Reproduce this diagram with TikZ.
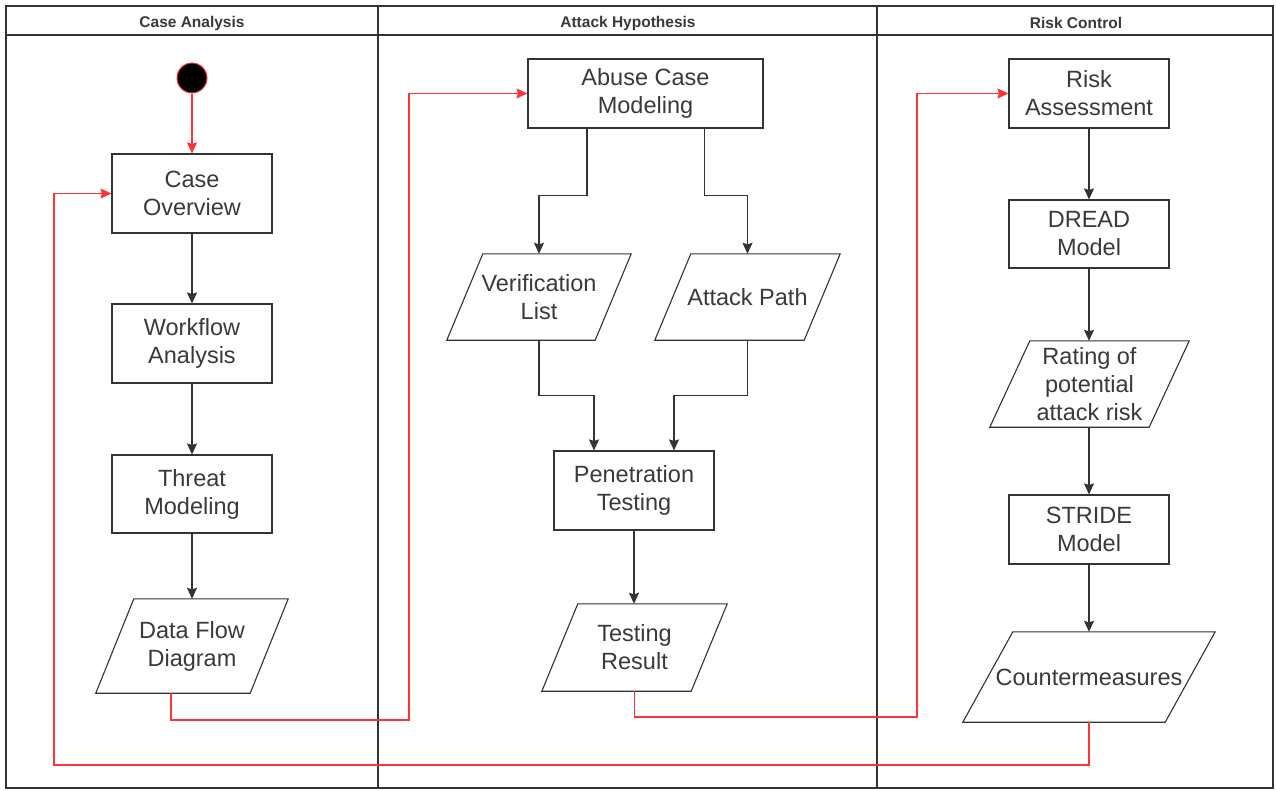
\documentclass[tikz,border=0pt]{standalone}
\usepackage{fontspec}
\setmainfont{Liberation Sans}
\usetikzlibrary{arrows.meta,calc}
\definecolor{ln}{HTML}{333333}
\definecolor{txt}{HTML}{3A3A3A}
\definecolor{rd}{HTML}{FF3333}
\newcommand\drawpara[2]{\draw[shp] ([xshift=#2]#1.north west) -- (#1.north east) -- ([xshift=-#2]#1.south east) -- (#1.south west) -- cycle;}
\tikzset{
  shp/.style={draw=ln, line width=1.1pt},
  lbl/.style={align=center, text=txt, font=\fontsize{23.5}{28}\selectfont, inner sep=0pt},
  box/.style={lbl, shp, minimum width=160pt, minimum height=79pt},
  para/.style={lbl},
  hdr/.style={text=txt, font=\fontsize{15.5}{18}\selectfont\bfseries, inner sep=0pt},
  lane/.style={draw=ln, line width=1.3pt},
  flow/.style={draw=ln, line width=1.1pt, -{Stealth[length=11pt,width=10pt,inset=1.5pt]}},
  rflow/.style={draw=rd, line width=1.1pt, -{Stealth[length=11pt,width=10pt,inset=1.5pt]}},
  startdot/.style={circle, fill=black, draw=rd, line width=1pt, minimum size=30pt, inner sep=0pt}
}
\begin{document}
\begin{tikzpicture}[x=1pt,y=-1pt]
\useasboundingbox (0,0) rectangle (1276,790);
\fill[white] (0,0) rectangle (1276,790);
% lanes
\draw[lane] (6,6) rectangle (1273,788);
\draw[lane] (6,35) -- (1273,35);
\draw[lane] (378,6) -- (378,788);
\draw[lane] (877,6) -- (877,788);
\node[hdr] (h1) at (192,23) {Case Analysis};
\node[hdr] (h2) at (628,23) {Attack Hypothesis};
\node[hdr] (h3) at (1076,23) {Risk Control};
% lane 1
\node[startdot] (start) at (192,78) {};
\node[box] (co) at (192,193.5) {Case\\Overview};
\node[box] (wa) at (192,343.5) {Workflow\\Analysis};
\node[box, minimum height=78pt] (tm) at (192,494) {Threat\\Modeling};
\node[para, minimum width=192pt, minimum height=94pt] (dfd) at (192,646) {Data Flow\\Diagram};
\drawpara{dfd}{38pt}
% lane 2
\node[box, minimum width=235pt, minimum height=69pt] (acm) at (645.5,93.5) {Abuse Case\\Modeling};
\node[para, minimum width=184pt, minimum height=86pt] (vl) at (539,297) {Verification\\List};
\drawpara{vl}{36pt}
\node[para, minimum width=185pt, minimum height=86pt] (ap) at (747.5,297) {Attack Path};
\drawpara{ap}{36pt}
\node[box] (pt) at (634,490.5) {Penetration\\Testing};
\node[para, minimum width=185pt, minimum height=87pt] (tr) at (634.5,647.5) {Testing\\Result};
\drawpara{tr}{36pt}
% lane 3
\node[box, minimum height=69pt] (ra) at (1089,93.5) {Risk\\Assessment};
\node[box, minimum height=68pt] (dm) at (1089,234) {DREAD\\Model};
\node[para, minimum width=199pt, minimum height=86pt] (rt) at (1089.5,384) {Rating of\\potential\\attack risk};
\drawpara{rt}{40pt}
\node[box, minimum height=69pt] (sm) at (1089,529.5) {STRIDE\\Model};
\node[para, minimum width=252pt, minimum height=90pt] (cm) at (1089,677) {Countermeasures};
\drawpara{cm}{50pt}
% connectors
\draw[rflow] (start) -- (co);
\draw[flow] (co) -- (wa);
\draw[flow] (wa) -- (tm);
\draw[flow] (tm) -- (dfd);
\draw[rflow] ([xshift=-21pt]dfd.south) |- (409,720) |- (acm.west);
\draw[flow] ([xshift=-58.5pt]acm.south) -- ++(0,67) -| (vl.north);
\draw[flow] ([xshift=59pt]acm.south) -- ++(0,67) -| (ap.north);
\draw[flow] (vl.south) -- ++(0,55) -| ([xshift=-40pt]pt.north);
\draw[flow] (ap.south) -- ++(0,55) -| ([xshift=40pt]pt.north);
\draw[flow] (pt.south) -- (pt.south |- tr.north);
\draw[rflow] (tr.south) |- (917,717) |- (ra.west);
\draw[flow] (ra) -- (dm);
\draw[flow] (dm) -- (dm.south |- rt.north);
\draw[flow] (rt.south -| sm.north) -- (sm);
\draw[flow] (sm) -- (cm);
\draw[rflow] (cm.south) |- (54,765) |- (co.west);
\end{tikzpicture}
\end{document}
